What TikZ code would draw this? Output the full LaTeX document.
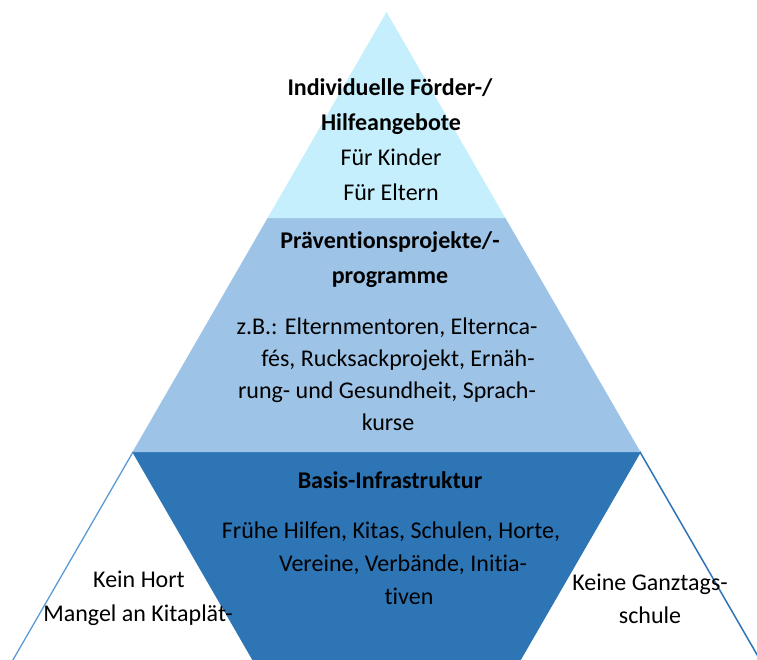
\documentclass[tikz,border=0pt]{standalone}
\usepackage{fontspec}
\setmainfont[Ligatures=NoCommon]{Carlito}
\definecolor{topcyan}{HTML}{C5EFFC}
\definecolor{midblue}{HTML}{9DC3E6}
\definecolor{darkblue}{HTML}{2E75B6}
\definecolor{lineL}{HTML}{5B9BD5}
\definecolor{lineR}{HTML}{2E75B6}
\begin{document}
\begin{tikzpicture}[x=1pt,y=-1pt,
  txt/.style={font=\fontsize{24}{28}\selectfont, inner sep=0pt, anchor=mid},
  btxt/.style={font=\fontsize{24}{28}\selectfont\bfseries, inner sep=0pt, anchor=mid}]
\useasboundingbox (0,0) rectangle (757,659);
\begin{scope}
\clip (0,0) rectangle (757,659);
% outlined side triangles
\draw[fill=white, draw=lineL, line width=1.3pt] (133,452) -- (-125.7,900) -- (391.7,900) -- cycle;
\draw[fill=white, draw=lineR, line width=1.5pt] (640,452) -- (381.3,900) -- (898.7,900) -- cycle;
% dark inverted triangle
\fill[darkblue] (132.5,452) -- (640.5,452) -- (386.5,892) -- cycle;
% middle band
\fill[midblue] (267.6,218) -- (505.4,218) -- (640.5,452) -- (132.5,452) -- cycle;
% top triangle
\fill[topcyan] (386.5,12) -- (505.4,218) -- (267.6,218) -- cycle;
\end{scope}
% texts top
\node[btxt] (t1) at (390,93) {Individuelle Förder-/};
\node[btxt] (t2) at (391,128) {Hilfeangebote};
\node[txt] (t3) at (391,163) {Für Kinder};
\node[txt] (t4) at (391,198) {Für Eltern};
% middle
\node[btxt] (m1) at (390,246) {Präventionsprojekte/-};
\node[btxt] (m2) at (390,281) {programme};
\node[txt] (m3) at (387,332) {z.B.: Elternmentoren, Elternca-};
\node[txt] (m4) at (398,364) {fés, Rucksackprojekt, Ernäh-};
\node[txt] (m5) at (387,396) {rung- und Gesundheit, Sprach-};
\node[txt] (m6) at (388,428) {kurse};
% bottom
\node[btxt] (b1) at (390,486) {Basis-Infrastruktur};
\node[txt] (b2) at (391,536) {Frühe Hilfen, Kitas, Schulen, Horte,};
\node[txt] (b3) at (403,569) {Vereine, Verbände, Initia-};
\node[txt] (b4) at (409,602) {tiven};
% sides
\node[txt] (l1) at (139,585) {Kein Hort};
\node[txt] (l2) at (138,619) {Mangel an Kitaplät-};
\node[txt] (r1) at (650,588) {Keine Ganztags-};
\node[txt] (r2) at (650,621) {schule};
\end{tikzpicture}
\end{document}
